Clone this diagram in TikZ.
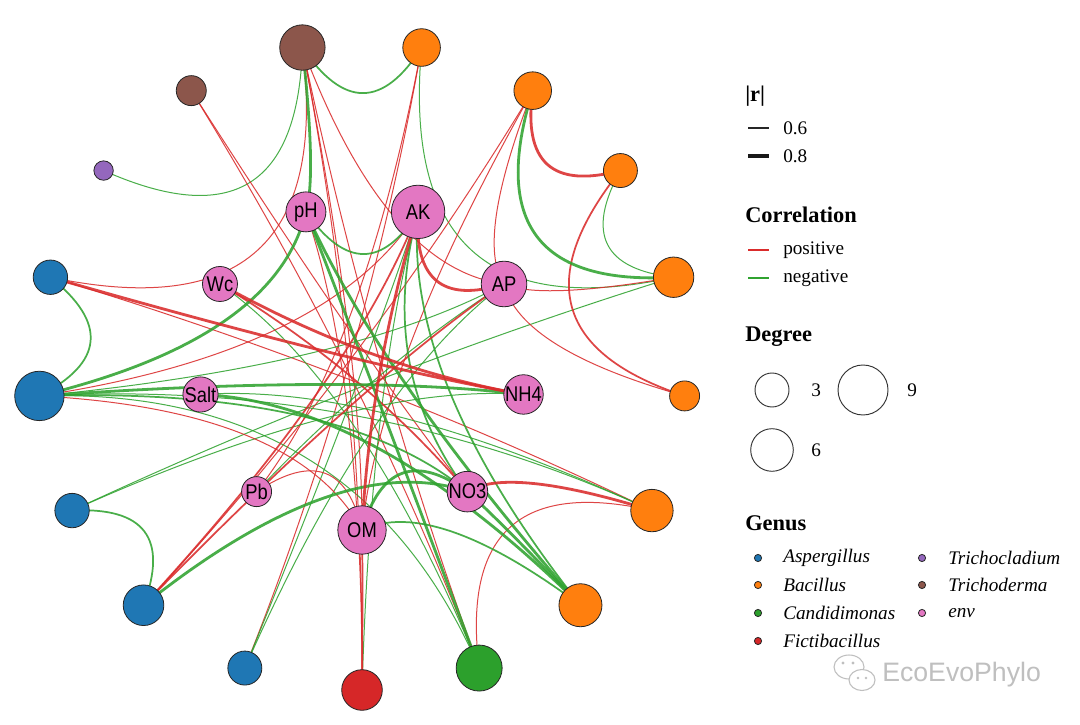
\documentclass[tikz,border=0pt]{standalone}
\usepackage{fontspec}
\usepackage{graphicx}
\setmainfont{Liberation Serif}
\newfontfamily\lsans{Liberation Sans}
\usetikzlibrary{calc}
\pgfdeclarelayer{back}
\pgfdeclarelayer{edges}
\pgfsetlayers{back,edges,main}
\definecolor{cAsp}{RGB}{31,119,180}
\definecolor{cBac}{RGB}{255,127,14}
\definecolor{cCan}{RGB}{44,160,44}
\definecolor{cFic}{RGB}{214,39,40}
\definecolor{cTcl}{RGB}{148,103,189}
\definecolor{cTde}{RGB}{140,86,75}
\definecolor{cEnv}{RGB}{227,119,194}
\definecolor{ePos}{RGB}{218,44,44}
\definecolor{eNeg}{RGB}{48,163,48}
\tikzset{
  nd/.style={circle, draw=black!85, line width=0.6pt, inner sep=0pt, minimum size={#1*1.5pt}},
  lab/.style={font=\lsans\fontsize{16}{16}\selectfont, text=black},
  ed/.style={line cap=round, draw opacity=0.88},
  pos1/.style={ed, draw=ePos, line width=0.75pt},
  pos2/.style={ed, draw=ePos, line width=1.3pt},
  pos3/.style={ed, draw=ePos, line width=2.1pt},
  neg1/.style={ed, draw=eNeg, line width=0.75pt},
  neg2/.style={ed, draw=eNeg, line width=1.3pt},
  neg3/.style={ed, draw=eNeg, line width=2.1pt},
  ttl/.style={font=\bfseries\fontsize{16.8}{18}\selectfont, anchor=west, inner sep=0pt},
  ltx/.style={font=\fontsize{14.4}{16}\selectfont, anchor=west, inner sep=0pt},
  gtx/.style={font=\itshape\fontsize{14.4}{16}\selectfont, anchor=west, inner sep=0pt},
  dcirc/.style={circle, draw=black!80, line width=0.7pt, inner sep=0pt, minimum size={#1*1.5pt}},
}
\newcommand\setinfo[3]{\expandafter\gdef\csname ang#1\endcsname{#2}\expandafter\gdef\csname lev#1\endcsname{#3}}
\newcommand\onode[4]{\setinfo{#1}{#2}{0}\node[nd=#3, fill=#4] (#1) at ($(ctr)+(#2:324)$) {};}
\newcommand\inode[4]{\setinfo{#1}{#2}{1}\node[nd=#3, fill=cEnv, lab] (#1) at ($(ctr)+(#2:164)$) {\scalebox{0.86}[1]{#4}};}
\newcommand\edge[3]{%
  \pgfmathsetmacro\dd{abs(\csname ang#1\endcsname-(\csname ang#2\endcsname))}%
  \pgfmathsetmacro\dd{min(\dd,360-\dd)}%
  \pgfmathsetmacro\mix{abs(\csname lev#1\endcsname-\csname lev#2\endcsname)}%
  \pgfmathsetmacro\kk{\mix>0.5 ? min(0.85,0.15+\dd/200) : min(0.9,\dd/75)}%
  \coordinate (m) at ($(#1.center)!0.5!(#2.center)$);%
  \coordinate (q) at ($(m)!\kk!(hub)$);%
  \draw[#3] (#1.center) .. controls ($(#1.center)!0.6667!(q)$) and ($(#2.center)!0.6667!(q)$) .. (#2.center);}
\begin{document}
\begin{tikzpicture}[x=0.75pt,y=0.75pt]
\begin{pgfonlayer}{back}
\fill[white] (0,0) rectangle (1080,724);
\end{pgfonlayer}
\useasboundingbox (0,0) rectangle (1080,724);
\coordinate (ctr) at (362,358);
\coordinate (hub) at (368,354);
% outer ring
\onode{F}{-90}{20.3}{cFic}
\onode{C}{-68.8}{23}{cCan}
\onode{B2}{-47.6}{21.5}{cBac}
\onode{B3}{-26.5}{21.2}{cBac}
\onode{B4}{-5.3}{15}{cBac}
\onode{B5}{15.9}{20.2}{cBac}
\onode{B6}{37.1}{17}{cBac}
\onode{B7}{58.2}{18.8}{cBac}
\onode{B8}{79.4}{18.8}{cBac}
\onode{T1}{100.6}{22.7}{cTde}
\onode{T2}{121.8}{15}{cTde}
\onode{P}{142.9}{9.7}{cTcl}
\onode{A12}{164.1}{17.2}{cAsp}
\onode{A13}{185.3}{24.7}{cAsp}
\onode{A14}{206.5}{17.2}{cAsp}
\onode{A15}{227.6}{20.3}{cAsp}
\onode{A16}{248.8}{17}{cAsp}
% inner ring
\inode{OM}{-90}{24.2}{OM}
\inode{NO3}{-50}{20.3}{NO3}
\inode{NH4}{-10}{17.8}{NH4}
\inode{AP}{30}{22.8}{AP}
\inode{AK}{70}{26.7}{AK}
\inode{pH}{110}{20}{pH}
\inode{Wc}{150}{17.5}{Wc}
\inode{Salt}{190}{15}{Salt}
\inode{Pb}{230}{15}{Pb}
\begin{pgfonlayer}{edges}
% thin
\edge{T1}{P}{neg1}
\edge{T1}{A12}{pos1}
\edge{B6}{B5}{neg1}
\edge{B8}{B5}{neg1}
\edge{B3}{C}{pos1}
\edge{B5}{A14}{neg1}
\edge{T2}{C}{pos1}
\edge{T1}{C}{pos1}
\edge{T1}{F}{pos1}
\edge{B8}{A16}{pos1}
\edge{B7}{A15}{pos1}
\edge{A12}{B3}{pos1}
\edge{A13}{B3}{neg1}
\edge{A13}{C}{neg1}
\edge{T1}{OM}{pos1}
\edge{T1}{AP}{pos1}
\edge{T2}{NO3}{pos1}
\edge{B8}{Pb}{pos1}
\edge{B7}{AP}{pos1}
\edge{B7}{OM}{pos1}
\edge{B5}{AP}{pos1}
\edge{B4}{AP}{pos1}
\edge{B3}{Salt}{neg1}
\edge{C}{Wc}{neg1}
\edge{F}{AK}{neg1}
\edge{F}{pH}{pos1}
\edge{A16}{AK}{neg1}
\edge{A16}{AP}{neg1}
\edge{A14}{NH4}{neg1}
\edge{A13}{AP}{neg1}
\edge{A13}{OM}{pos1}
\edge{A13}{AK}{pos1}
\edge{Pb}{OM}{pos1}
\edge{Pb}{AP}{neg1}
% medium
\edge{T1}{B8}{neg2}
\edge{B6}{B4}{pos2}
\edge{A12}{A13}{neg2}
\edge{A14}{A15}{neg2}
\edge{B2}{OM}{neg2}
\edge{B2}{AK}{neg2}
\edge{F}{OM}{pos2}
\edge{A15}{AK}{pos2}
\edge{A15}{AP}{pos2}
\edge{A13}{NO3}{neg2}
\edge{pH}{AK}{neg2}
\edge{Wc}{NO3}{pos2}
\edge{AK}{NO3}{neg2}
% thick
\edge{B7}{B6}{pos3}
\edge{B7}{B5}{neg3}
\edge{T1}{pH}{neg3}
\edge{B3}{NO3}{pos3}
\edge{B2}{pH}{neg3}
\edge{B2}{NO3}{neg3}
\edge{B2}{Salt}{neg3}
\edge{C}{pH}{neg3}
\edge{A15}{NO3}{neg3}
\edge{A13}{pH}{neg3}
\edge{A13}{NH4}{neg3}
\edge{A12}{NH4}{pos3}
\edge{AK}{AP}{pos3}
\edge{OM}{NO3}{neg3}
\edge{Wc}{NH4}{pos3}
\edge{AK}{OM}{pos3}
\end{pgfonlayer}
% legend |r|
\node[ttl] (tr) at (745,628) {|\textbf{r}|};
\coordinate (ra1) at (748,596); \coordinate (rb1) at (769,596);
\draw[black!85, line width=1pt] (ra1) -- (rb1);
\node[ltx] (r06) at (783,596) {0.6};
\coordinate (ra2) at (748,568); \coordinate (rb2) at (769,568);
\draw[black!90, line width=2.3pt] (ra2) -- (rb2);
\node[ltx] (r08) at (783,568) {0.8};
% legend correlation
\node[ttl] (tc) at (745,509) {Correlation};
\coordinate (ca1) at (748,474); \coordinate (cb1) at (769,474);
\draw[ePos, line width=1pt] (ca1) -- (cb1);
\node[ltx] (cpos) at (783,474) {positive};
\coordinate (ca2) at (748,446); \coordinate (cb2) at (769,446);
\draw[eNeg, line width=1pt] (ca2) -- (cb2);
\node[ltx] (cneg) at (783,446) {negative};
% legend degree
\node[ttl] (td) at (745,387) {Degree};
\node[dcirc=17] (d3) at (772,334) {};
\node[ltx] (d3l) at (811,334) {3};
\node[dcirc=25] (d9) at (863,334) {};
\node[ltx] (d9l) at (907,334) {9};
\node[dcirc=21.3] (d6) at (772,274) {};
\node[ltx] (d6l) at (811,274) {6};
% legend genus
\node[ttl] (tg) at (745,201) {Genus};
\node[nd=3.6, fill=cAsp] (g1) at (758,166) {};
\node[gtx] (g1l) at (783,166) {Aspergillus};
\node[nd=3.6, fill=cBac] (g2) at (758,139) {};
\node[gtx] (g2l) at (783,139) {Bacillus};
\node[nd=3.6, fill=cCan] (g3) at (758,111) {};
\node[gtx] (g3l) at (783,111) {Candidimonas};
\node[nd=3.6, fill=cFic] (g4) at (758,83) {};
\node[gtx] (g4l) at (783,83) {Fictibacillus};
\node[nd=3.6, fill=cTcl] (g5) at (922,166) {};
\node[gtx] (g5l) at (948,166) {Trichocladium};
\node[nd=3.6, fill=cTde] (g6) at (922,139) {};
\node[gtx] (g6l) at (948,139) {Trichoderma};
\node[nd=3.6, fill=cEnv] (g7) at (922,111) {};
\node[gtx] (g7l) at (948,111) {env};
% watermark
\draw[black!25, line width=0.8pt] (849,57) ellipse (15 and 12);
\fill[white] (862,44) ellipse (13 and 10.5);
\draw[black!25, line width=0.8pt] (862,44) ellipse (13 and 10.5);
\fill[black!25] (843,61) circle (1.6) (853,61) circle (1.6) (858,46) circle (1.3) (866,46) circle (1.3);
\node[font=\lsans\fontsize{20}{20}\selectfont, text=black!25, anchor=west, inner sep=0pt] (wm) at (882,49) {EcoEvoPhylo};
\end{tikzpicture}
\end{document}
